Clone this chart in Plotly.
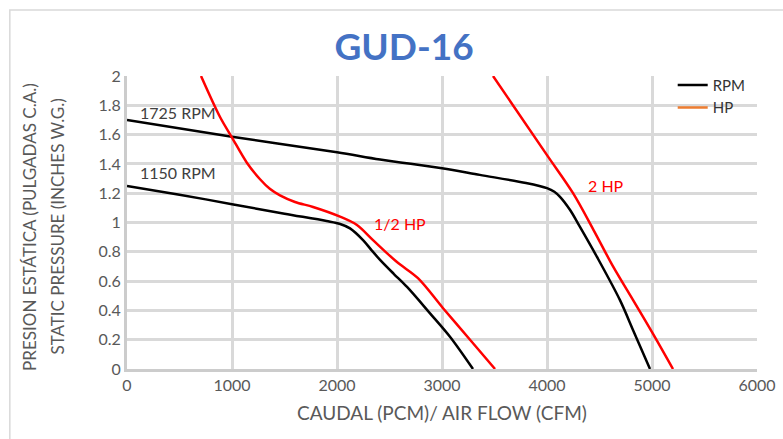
import plotly.graph_objects as go

# curvas de ventilador GUD-16
rpm1725_x = [0, 1000, 2000, 2410, 3000, 3360, 3800, 4000, 4070, 4124, 4220, 4314, 4476, 4695, 4820, 4981]
rpm1725_y = [1.70, 1.585, 1.48, 1.43, 1.37, 1.325, 1.27, 1.235, 1.21, 1.175, 1.085, 0.97, 0.765, 0.47, 0.265, 0.0]

rpm1150_x = [0, 500, 1000, 1500, 1900, 2030, 2124, 2248, 2330, 2410, 2540, 2667, 2886, 3076, 3295]
rpm1150_y = [1.25, 1.19, 1.125, 1.06, 1.01, 0.99, 0.96, 0.88, 0.81, 0.745, 0.65, 0.56, 0.38, 0.22, 0.0]

hp_half_x = [705, 886, 1000, 1140, 1267, 1360, 1457, 1600, 1772, 2029, 2190, 2343, 2571, 2771, 3010, 3267, 3505]
hp_half_y = [2.0, 1.72, 1.58, 1.41, 1.295, 1.23, 1.185, 1.14, 1.106, 1.04, 0.983, 0.88, 0.73, 0.62, 0.415, 0.20, 0.0]

hp2_x = [3486, 4000, 4248, 4450, 4629, 4820, 5010, 5200]
hp2_y = [2.0, 1.46, 1.20, 0.94, 0.70, 0.47, 0.24, 0.0]

etiquetas = ["1725 RPM", "1150 RPM", "1/2 HP", "2 HP"]
etiq_x = [105, 100, 2600, 4560]
etiq_y = [1.75, 1.34, 0.99, 1.25]
etiq_color = ["#404040", "#404040", "#FF0000", "#FF0000"]

titulo_y = ["PRESION ESTÁTICA (PULGADAS C.A.)", "STATIC PRESSURE (INCHES W.G.)"]

gris = "#595959"

fig = go.Figure()

for xs, ys in [(rpm1725_x, rpm1725_y), (rpm1150_x, rpm1150_y)]:
    fig.add_trace(go.Scatter(x=xs, y=ys, mode="lines", showlegend=False,
                             line=dict(color="black", width=2.5, shape="spline", smoothing=0.9)))
for xs, ys in [(hp_half_x, hp_half_y), (hp2_x, hp2_y)]:
    fig.add_trace(go.Scatter(x=xs, y=ys, mode="lines", showlegend=False,
                             line=dict(color="#FF0000", width=2.5, shape="spline", smoothing=0.9)))

# leyenda (solo entradas)
fig.add_trace(go.Scatter(x=[None], y=[None], mode="lines", name="RPM",
                         line=dict(color="black", width=2.5)))
fig.add_trace(go.Scatter(x=[None], y=[None], mode="lines", name="HP",
                         line=dict(color="#ED7D31", width=2.5)))

for t, x, y, c in zip(etiquetas, etiq_x, etiq_y, etiq_color):
    anchor = "center" if "HP" in t else "left"
    fig.add_annotation(x=x, y=y, text=t, showarrow=False, xanchor=anchor,
                       font=dict(size=16, color=c))

# titulo del eje Y en dos lineas
for t, px in zip(titulo_y, [-0.154, -0.11]):
    fig.add_annotation(xref="paper", yref="paper", x=px, y=0.485, text=t, textangle=-90,
                       showarrow=False, xanchor="center", yanchor="middle",
                       font=dict(size=17, color=gris))

# marco exterior
fig.add_shape(type="rect", xref="paper", yref="paper",
              x0=-0.186, x1=1.06, y0=-0.3, y1=1.225,
              line=dict(color="#d9d9d9", width=1.5), fillcolor="rgba(0,0,0,0)", layer="above")

fig.update_layout(
    template="none",
    width=783, height=439,
    margin=dict(l=127, r=26, t=76, b=70, autoexpand=False),
    paper_bgcolor="white", plot_bgcolor="white",
    font=dict(family="Lato, Open Sans, sans-serif", color=gris),
    title=dict(text="<b>GUD-16</b>", x=0.516, xanchor="center", y=0.893, yanchor="middle",
               font=dict(size=37, color="#4472C4")),
    legend=dict(x=0.99, y=1.025, xanchor="right", yanchor="top",
                bgcolor="rgba(0,0,0,0)", font=dict(size=15, color="#333333"),
                tracegroupgap=0),
    showlegend=True,
)

fig.update_xaxes(range=[0, 6000], dtick=1000, showgrid=True, gridcolor="#d9d9d9", gridwidth=2.5,
                 zeroline=False, showline=True, linecolor="#cccccc", linewidth=3,
                 automargin=False, tickfont=dict(size=16, color=gris), ticks="",
                 title=dict(text="CAUDAL (PCM)/ AIR FLOW (CFM)", font=dict(size=19, color=gris), standoff=14))
fig.update_yaxes(range=[0, 2], dtick=0.2, tickformat="~g", showgrid=True, gridcolor="#d9d9d9", gridwidth=2.5,
                 zeroline=False, showline=True, linecolor="#cccccc", linewidth=3,
                 automargin=False, tickfont=dict(size=16, color=gris), ticks="")

fig.write_html("out.html", config={"displayModeBar": False},
               post_script="document.body.style.margin='0';")
